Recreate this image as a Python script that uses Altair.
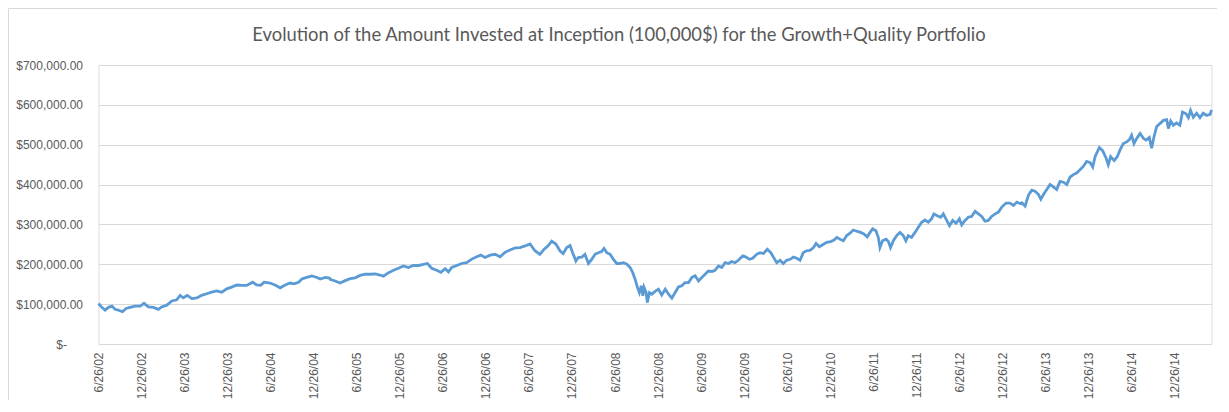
import altair as alt
import pandas as pd

# Time as decimal year, value in thousands of dollars
years = [
    2002.482, 2002.520, 2002.559, 2002.598, 2002.637, 2002.675, 2002.714, 2002.761, 2002.803, 2002.850,
    2002.908, 2002.966, 2003.012, 2003.063, 2003.121, 2003.179, 2003.217, 2003.276, 2003.334, 2003.392,
    2003.430, 2003.469, 2003.516, 2003.566, 2003.624, 2003.682, 2003.740, 2003.798, 2003.856, 2003.914,
    2003.972, 2004.031, 2004.089, 2004.147, 2004.205, 2004.274, 2004.321, 2004.367, 2004.406, 2004.476,
    2004.534, 2004.592, 2004.650, 2004.708, 2004.755, 2004.805, 2004.844, 2004.902, 2004.960, 2005.018,
    2005.057, 2005.115, 2005.165,
    2005.173, 2005.231, 2005.289, 2005.347, 2005.405, 2005.463, 2005.521, 2005.580, 2005.638, 2005.696,
    2005.754, 2005.793, 2005.851, 2005.909, 2005.967, 2006.025, 2006.083, 2006.141, 2006.199, 2006.257,
    2006.304, 2006.354, 2006.412, 2006.459, 2006.509, 2006.548, 2006.586, 2006.644, 2006.702, 2006.760,
    2006.819, 2006.877, 2006.923, 2006.973, 2007.032, 2007.090, 2007.148, 2007.206, 2007.264, 2007.322,
    2007.380, 2007.438, 2007.496, 2007.554, 2007.612, 2007.659, 2007.709, 2007.748, 2007.798, 2007.845,
    2007.883, 2007.922, 2007.961,
    2007.992, 2008.031, 2008.058, 2008.097, 2008.135, 2008.174, 2008.213, 2008.252, 2008.290, 2008.329,
    2008.356, 2008.387, 2008.426, 2008.464, 2008.503, 2008.542, 2008.581, 2008.619, 2008.658, 2008.689,
    2008.716, 2008.743, 2008.766, 2008.786, 2008.805, 2008.821, 2008.844, 2008.859, 2008.883, 2008.910,
    2008.948, 2008.987, 2009.026, 2009.065, 2009.103, 2009.142, 2009.181, 2009.220, 2009.258, 2009.297,
    2009.336, 2009.374, 2009.413, 2009.452, 2009.491, 2009.529, 2009.568, 2009.607, 2009.645, 2009.684,
    2009.723, 2009.761, 2009.800, 2009.839, 2009.878, 2009.916, 2009.967, 2010.006, 2010.044, 2010.083,
    2010.129, 2010.168, 2010.207, 2010.253, 2010.292, 2010.323, 2010.362, 2010.400, 2010.439, 2010.478,
    2010.517, 2010.555, 2010.594,
    2010.633, 2010.672, 2010.710, 2010.749, 2010.788, 2010.819, 2010.858, 2010.896, 2010.943, 2010.989,
    2011.028, 2011.059, 2011.098, 2011.136, 2011.175, 2011.214, 2011.252, 2011.291, 2011.338, 2011.376,
    2011.415, 2011.446, 2011.477, 2011.516, 2011.543, 2011.562, 2011.593, 2011.632, 2011.659, 2011.686,
    2011.717, 2011.756, 2011.795, 2011.833, 2011.864, 2011.891, 2011.930, 2011.969, 2012.008, 2012.046,
    2012.085, 2012.124, 2012.162, 2012.189, 2012.228, 2012.267, 2012.298, 2012.329, 2012.368, 2012.406,
    2012.445, 2012.484, 2012.511, 2012.550, 2012.588, 2012.627, 2012.666, 2012.704, 2012.743, 2012.782,
    2012.821, 2012.859, 2012.898, 2012.937, 2012.975, 2013.026, 2013.072, 2013.111, 2013.150, 2013.189,
    2013.208, 2013.247, 2013.286, 2013.324, 2013.363, 2013.402, 2013.429, 2013.460, 2013.499, 2013.537,
    2013.576, 2013.615, 2013.653, 2013.692, 2013.731, 2013.770, 2013.808, 2013.847, 2013.886, 2013.924,
    2013.963, 2014.002, 2014.033, 2014.060, 2014.110, 2014.149, 2014.188, 2014.215, 2014.242, 2014.281,
    2014.319, 2014.350, 2014.389, 2014.428, 2014.459, 2014.486, 2014.513, 2014.544, 2014.583, 2014.621,
    2014.652, 2014.691, 2014.718, 2014.745, 2014.776, 2014.815, 2014.854, 2014.892, 2014.912, 2014.939,
    2014.970, 2015.009, 2015.047, 2015.078, 2015.117, 2015.144, 2015.171, 2015.202, 2015.241, 2015.280,
    2015.318, 2015.357, 2015.396, 2015.415,
]

values_k = [
    101.6, 92, 85, 92, 95, 87, 85, 81, 89, 92,
    95, 95, 102, 93, 92, 87, 93, 97.5, 108, 111,
    122, 116, 122, 114, 115.6, 122, 126, 130, 133, 130,
    138.5, 142.6, 148, 147, 147, 155, 148, 147, 155, 153,
    148, 141, 148, 153, 151, 155, 163, 167, 171, 167,
    163, 167, 165.6,
    162, 158, 153, 159, 164, 166, 172, 175, 175, 176,
    173, 170, 179, 185, 190, 196, 192, 197, 197, 200,
    202, 190, 185, 180, 189, 181, 192, 197, 202, 204,
    213, 219, 223, 217, 223, 225, 219, 230, 236, 241,
    242, 246, 251, 234, 225, 238, 247, 258, 251, 234,
    227, 242, 247,
    229, 208, 217, 218, 225, 202, 212.5, 225, 229, 232,
    240, 229, 225, 212.5, 202, 202, 204, 200, 192, 179,
    162.5, 142, 129, 146, 121, 142, 129, 104, 129, 125,
    132, 137.5, 123, 137.5, 125, 115, 129, 143, 146, 154,
    154, 167, 171, 158, 167, 175, 183, 182, 185, 196,
    192, 204, 202, 207, 204, 210, 221, 218, 212.5, 215,
    225, 229, 227, 237.5, 229, 218, 204, 210, 202, 210,
    212.5, 218, 215,
    210, 229.5, 234, 235, 242, 252, 244, 249, 255, 257,
    261, 267.5, 263, 259, 272, 278, 286, 283, 280, 276,
    269, 280, 289, 284, 267.5, 242, 259, 263, 257, 242,
    259, 272, 280, 272, 259, 272, 267.5, 280, 293, 305.5,
    311, 305.5, 314, 326.6, 322, 318, 326.6, 314, 297, 310,
    303, 314, 299, 310, 318, 320, 333, 326.6, 320, 308,
    310, 320, 326.6, 331, 343.5, 353.6, 353.6, 347.7, 356, 352,
    354.5, 346, 373, 386, 383.5, 375, 363, 375, 387.6, 400,
    394, 387.6, 408, 406, 400, 419, 425, 429, 437, 445.5,
    458, 455, 444, 470, 493, 485, 466, 449.6, 470, 460,
    470, 487, 503, 507, 513, 524, 503, 516, 528, 516,
    511.6, 518, 491, 520, 545, 553, 561, 563, 540.5, 559.5,
    549, 554.5, 549, 582, 577.7, 568, 586, 569, 579, 568,
    579, 573.5, 576, 587.6,
]

tick_dates = [
    (2002, 6, 26), (2002, 12, 26), (2003, 6, 26), (2003, 12, 26), (2004, 6, 26),
    (2004, 12, 26), (2005, 6, 26), (2005, 12, 26), (2006, 6, 26), (2006, 12, 26),
    (2007, 6, 26), (2007, 12, 26), (2008, 6, 26), (2008, 12, 26), (2009, 6, 26),
    (2009, 12, 26), (2010, 6, 26), (2010, 12, 26), (2011, 6, 26), (2011, 12, 26),
    (2012, 6, 26), (2012, 12, 26), (2013, 6, 26), (2013, 12, 26), (2014, 6, 26),
    (2014, 12, 26),
]
y_ticks = [0, 100000, 200000, 300000, 400000, 500000, 600000, 700000]
zero_tick = [0]

title_text = "Evolution of the Amount Invested at Inception (100,000$) for the Growth+Quality Portfolio"


def to_date(y):
    yr = int(y)
    start = pd.Timestamp(year=yr, month=1, day=1)
    end = pd.Timestamp(year=yr + 1, month=1, day=1)
    return start + (end - start) * (y - yr)


df = pd.DataFrame({
    "date": [to_date(y).round("D") for y in years],
    "value": [v * 1000 for v in values_k],
})

x_start = alt.DateTime(year=2002, month=6, date=26)
last = df["date"].max()
x_end = alt.DateTime(year=last.year, month=last.month, date=last.day)

x_scale = alt.Scale(domain=[x_start, x_end], nice=False)
y_scale = alt.Scale(domain=[0, 700000], nice=False)

x_axis = alt.Axis(
    values=[alt.DateTime(year=a, month=b, date=c) for a, b, c in tick_dates],
    format="%-m/%-d/%y",
    labelAngle=270,
    labelFont="Liberation Sans",
    labelFontSize=12,
    labelColor="#595959",
    labelPadding=8,
    ticks=False,
    domain=False,
    grid=False,
    title=None,
    labelOverlap=False,
)

line = alt.Chart(df).mark_line(color="#5B9BD5", strokeWidth=2.8).encode(
    x=alt.X("date:T", scale=x_scale, axis=x_axis),
    y=alt.Y(
        "value:Q",
        scale=y_scale,
        axis=alt.Axis(
            values=y_ticks,
            labelExpr="datum.value == 0 ? '' : '$' + format(datum.value, ',.2f')",
            labelFont="Liberation Sans",
            labelFontSize=12,
            labelColor="#595959",
            labelPadding=16,
            ticks=False,
            domain=False,
            gridColor="#D9D9D9",
            gridWidth=1,
            title=None,
            orient="left",
        ),
    ),
)

# second (label-only) axis for the accounting-style zero label "$-"
zero_axis = alt.Chart(df).mark_line(opacity=0).encode(
    x=alt.X("date:T", scale=x_scale, axis=x_axis),
    y=alt.Y(
        "value:Q",
        scale=y_scale,
        axis=alt.Axis(
            values=zero_tick,
            labelExpr="'$-'",
            labelFont="Liberation Sans",
            labelFontSize=12,
            labelColor="#595959",
            labelPadding=32,
            ticks=False,
            domain=False,
            grid=False,
            title=None,
            orient="left",
        ),
    ),
)

border_top = alt.Chart().mark_rule(color="#D9D9D9", strokeWidth=1).encode(
    x=alt.value(-90), x2=alt.value(1120), y=alt.value(-56.5)
)
border_left = alt.Chart().mark_rule(color="#D9D9D9", strokeWidth=1).encode(
    x=alt.value(-90), y=alt.value(-56.5), y2=alt.value(340)
)

chart = alt.layer(border_top, border_left, line, zero_axis).resolve_axis(
    y="independent"
).properties(
    width=1113,
    height=279,
    padding={"left": 90.5, "top": 57, "right": 5, "bottom": 56},
    autosize=alt.AutoSizeParams(type="none"),
    title=alt.TitleParams(
        text=title_text,
        font="Lato",
        fontSize=18.4,
        fontWeight="normal",
        color="#595959",
        anchor="middle",
        baseline="alphabetic",
        offset=-51,
        dx=-36,
    ),
).configure_view(stroke=None).configure(background="white")

chart.save("out.html", embed_options={"renderer": "svg", "actions": False})
